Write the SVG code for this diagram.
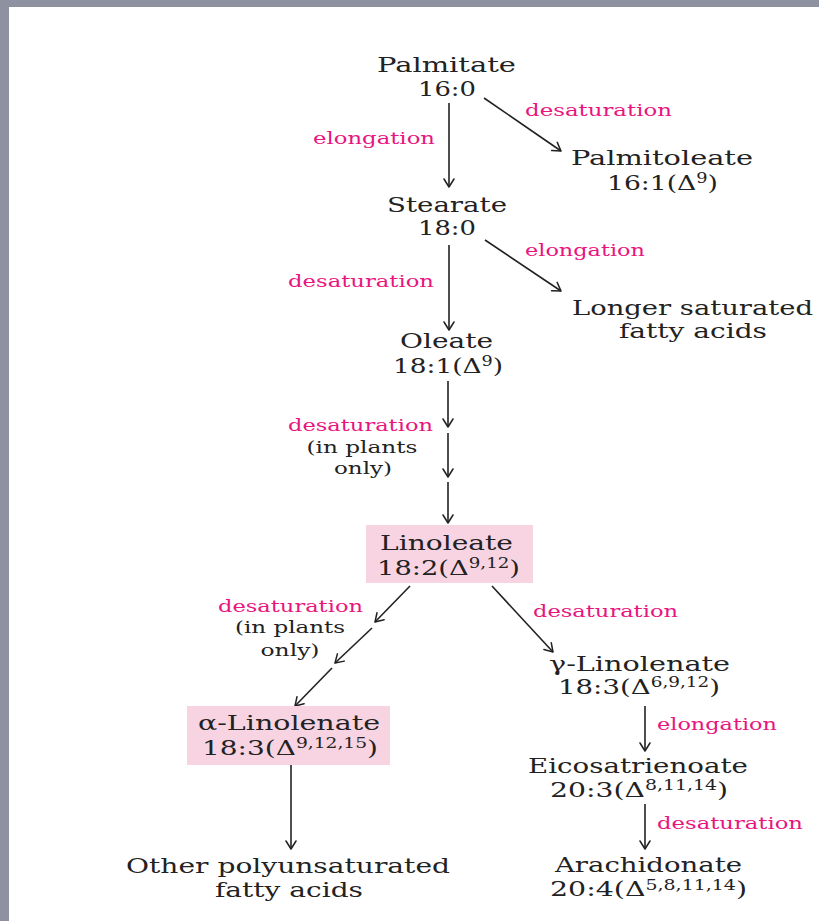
<svg xmlns="http://www.w3.org/2000/svg" width="819" height="921" viewBox="0 0 819 921">
<defs>
<marker id="ah" viewBox="-10 -6 12 12" refX="0" refY="0" markerWidth="12" markerHeight="12" markerUnits="userSpaceOnUse" orient="auto">
<path d="M-8,-5 L0,0 L-8,5" fill="none" stroke="#222" stroke-width="1.5" stroke-linecap="round" stroke-linejoin="round"/>
</marker>
</defs>
<style>
.n{font-family:"DejaVu Serif","Liberation Serif",serif;font-size:21px;fill:#222;text-anchor:middle}
.s{font-size:14px}
.p{font-family:"DejaVu Serif","Liberation Serif",serif;font-size:16px;fill:#e8157f}
.k{font-family:"DejaVu Serif","Liberation Serif",serif;font-size:16px;fill:#222;text-anchor:middle}
.a{stroke:#222;stroke-width:1.6;fill:none;marker-end:url(#ah)}
.box{fill:#f8d4e3}
</style>
<rect x="0" y="0" width="819" height="921" fill="#8e919f"/>
<rect x="9" y="7" width="810" height="914" fill="#ffffff"/>

<g id="connectors">
<line class="a" x1="449" y1="103" x2="449" y2="187"/>
<line class="a" x1="484" y1="98" x2="561" y2="151"/>
<line class="a" x1="449" y1="245" x2="449" y2="330"/>
<line class="a" x1="485" y1="240" x2="561" y2="291"/>
<line class="a" x1="448" y1="381" x2="448" y2="427"/>
<line class="a" x1="448" y1="433" x2="448" y2="477"/>
<line class="a" x1="448" y1="482" x2="448" y2="523"/>
<line class="a" x1="410" y1="586" x2="375" y2="622"/>
<line class="a" x1="372" y1="628" x2="335" y2="663"/>
<line class="a" x1="332" y1="668" x2="295" y2="706"/>
<line class="a" x1="492" y1="586" x2="553" y2="652"/>
<line class="a" x1="645" y1="706" x2="645" y2="751"/>
<line class="a" x1="645" y1="804" x2="645" y2="849"/>
<line class="a" x1="291" y1="765" x2="291" y2="849"/>
</g>

<g id="labels">
<text class="p" x="435" y="144" text-anchor="end" textLength="122" lengthAdjust="spacingAndGlyphs">elongation</text>
<text class="p" x="525" y="116" textLength="147" lengthAdjust="spacingAndGlyphs">desaturation</text>
<text class="p" x="434" y="287" text-anchor="end" textLength="146" lengthAdjust="spacingAndGlyphs">desaturation</text>
<text class="p" x="525" y="256" textLength="120" lengthAdjust="spacingAndGlyphs">elongation</text>
<text class="p" x="433" y="431" text-anchor="end" textLength="145" lengthAdjust="spacingAndGlyphs">desaturation</text>
<text class="k" x="362" y="453" textLength="111" lengthAdjust="spacingAndGlyphs">(in plants</text>
<text class="k" x="363" y="474" textLength="58" lengthAdjust="spacingAndGlyphs">only)</text>
<text class="p" x="363" y="612" text-anchor="end" textLength="145" lengthAdjust="spacingAndGlyphs">desaturation</text>
<text class="k" x="290" y="633" textLength="110" lengthAdjust="spacingAndGlyphs">(in plants</text>
<text class="k" x="290" y="656" textLength="59" lengthAdjust="spacingAndGlyphs">only)</text>
<text class="p" x="533" y="617" textLength="145" lengthAdjust="spacingAndGlyphs">desaturation</text>
<text class="p" x="657" y="730" textLength="120" lengthAdjust="spacingAndGlyphs">elongation</text>
<text class="p" x="657" y="829" textLength="146" lengthAdjust="spacingAndGlyphs">desaturation</text>
</g>

<g id="palmitate">
<text class="n" x="446.5" y="72" textLength="139" lengthAdjust="spacingAndGlyphs">Palmitate</text>
<text class="n" x="447" y="96" textLength="58" lengthAdjust="spacingAndGlyphs">16:0</text>
</g>
<g id="palmitoleate">
<text class="n" x="662" y="165" textLength="182" lengthAdjust="spacingAndGlyphs">Palmitoleate</text>
<text class="n" x="662.5" y="190" textLength="111" lengthAdjust="spacingAndGlyphs">16:1(Δ<tspan class="s" dy="-7">9</tspan><tspan dy="7">)</tspan></text>
</g>
<g id="stearate">
<text class="n" x="447" y="212" textLength="120" lengthAdjust="spacingAndGlyphs">Stearate</text>
<text class="n" x="447" y="235" textLength="58" lengthAdjust="spacingAndGlyphs">18:0</text>
</g>
<g id="longer-saturated">
<text class="n" x="692.5" y="315" textLength="241" lengthAdjust="spacingAndGlyphs">Longer saturated</text>
<text class="n" x="693" y="338" textLength="148" lengthAdjust="spacingAndGlyphs">fatty acids</text>
</g>
<g id="oleate">
<text class="n" x="446.5" y="348" textLength="93" lengthAdjust="spacingAndGlyphs">Oleate</text>
<text class="n" x="448" y="373" textLength="110" lengthAdjust="spacingAndGlyphs">18:1(Δ<tspan class="s" dy="-7">9</tspan><tspan dy="7">)</tspan></text>
</g>
<g id="linoleate">
<rect class="box" x="366" y="525" width="167" height="58"/>
<text class="n" x="446.5" y="550" textLength="133" lengthAdjust="spacingAndGlyphs">Linoleate</text>
<text class="n" x="448.5" y="575" textLength="143" lengthAdjust="spacingAndGlyphs">18:2(Δ<tspan class="s" dy="-7">9,12</tspan><tspan dy="7">)</tspan></text>
</g>
<g id="alpha-linolenate">
<rect class="box" x="187" y="706" width="203" height="59"/>
<text class="n" x="289" y="730" textLength="182" lengthAdjust="spacingAndGlyphs">α-Linolenate</text>
<text class="n" x="290" y="755" textLength="176" lengthAdjust="spacingAndGlyphs">18:3(Δ<tspan class="s" dy="-7">9,12,15</tspan><tspan dy="7">)</tspan></text>
</g>
<g id="gamma-linolenate">
<text class="n" x="639.5" y="671" textLength="181" lengthAdjust="spacingAndGlyphs">γ-Linolenate</text>
<text class="n" x="639" y="694" textLength="162" lengthAdjust="spacingAndGlyphs">18:3(Δ<tspan class="s" dy="-7">6,9,12</tspan><tspan dy="7">)</tspan></text>
</g>
<g id="eicosatrienoate">
<text class="n" x="638" y="773" textLength="220" lengthAdjust="spacingAndGlyphs">Eicosatrienoate</text>
<text class="n" x="639" y="797" textLength="178" lengthAdjust="spacingAndGlyphs">20:3(Δ<tspan class="s" dy="-7">8,11,14</tspan><tspan dy="7">)</tspan></text>
</g>
<g id="arachidonate">
<text class="n" x="648.5" y="872" textLength="187" lengthAdjust="spacingAndGlyphs">Arachidonate</text>
<text class="n" x="648.5" y="896" textLength="197" lengthAdjust="spacingAndGlyphs">20:4(Δ<tspan class="s" dy="-6">5,8,11,14</tspan><tspan dy="6">)</tspan></text>
</g>
<g id="other-polyunsaturated">
<text class="n" x="288" y="873" textLength="324" lengthAdjust="spacingAndGlyphs">Other polyunsaturated</text>
<text class="n" x="289" y="897" textLength="148" lengthAdjust="spacingAndGlyphs">fatty acids</text>
</g>
</svg>
